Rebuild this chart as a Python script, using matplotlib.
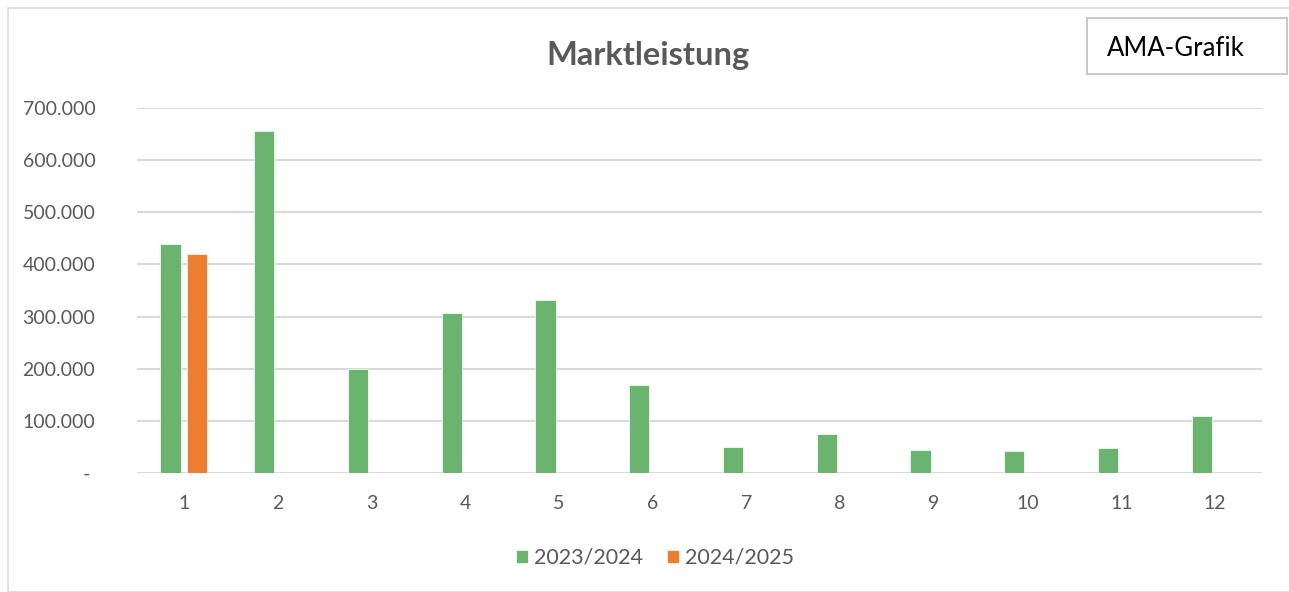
import matplotlib.pyplot as plt
from matplotlib.patches import Rectangle

months = ["1", "2", "3", "4", "5", "6", "7", "8", "9", "10", "11", "12"]
season_2324 = [439000, 656000, 199000, 306000, 331000, 169000, 50000, 75000, 45000, 42000, 47000, 110000]
season_2425 = [420000]
y_ticks = [0, 100000, 200000, 300000, 400000, 500000, 600000, 700000]
y_tick_labels = ["- ", "100.000", "200.000", "300.000", "400.000", "500.000", "600.000", "700.000"]

green = "#6BB46F"
orange = "#ED7D31"
grey_text = "#595959"

plt.rcParams['font.family'] = ['Lato', 'DejaVu Sans']

fig = plt.figure(figsize=(12.89, 5.92), dpi=100)
ax = fig.add_axes([137/1289, 1 - 473/592, (1262 - 137)/1289, (473 - 108)/592])

w = 0.214
off = 0.143
x = list(range(len(months)))
ax.bar([i - off for i in x], season_2324, width=w, color=green, edgecolor="white", linewidth=0.5,
       label="2023/2024", zorder=3)
ax.bar([i + off for i in range(len(season_2425))], season_2425, width=w, color=orange,
       edgecolor="white", linewidth=0.5, label="2024/2025", zorder=3)

ax.set_xlim(-0.5, len(months) - 0.5)
ax.set_ylim(0, 700000)
ax.set_xticks(x)
ax.set_xticklabels(months)
ax.set_yticks(y_ticks)
ax.set_yticklabels(y_tick_labels)
ax.tick_params(axis="both", length=0, labelsize=14, colors=grey_text)
ax.tick_params(axis="y", pad=30)
ax.tick_params(axis="x", pad=16)
for s in ax.spines.values():
    s.set_visible(False)
ax.yaxis.grid(True, color="#D9D9D9", linewidth=1.5, zorder=0)
ax.set_axisbelow(True)

fig.text(648/1289, 1 - 55/592, "Marktleistung", ha="center", va="center",
         fontsize=23.5, fontweight="bold", color=grey_text)

leg = ax.legend(loc="center", bbox_to_anchor=(655/1289, 1 - 558/592), bbox_transform=fig.transFigure,
                ncol=2, frameon=False, fontsize=15.5, handlelength=0.55, handleheight=0.55,
                handletextpad=0.3, columnspacing=1.1)
for t in leg.get_texts():
    t.set_color(grey_text)

# outer chart frame
fig.patches.append(Rectangle((8/1289, 0), 1, 1 - 8/592, transform=fig.transFigure,
                             fill=False, edgecolor="#D9D9D9", linewidth=1.2))

# AMA-Grafik box
fig.patches.append(Rectangle((1087/1289, 1 - 74/592), 200/1289, 56/592, transform=fig.transFigure,
                             facecolor="white", edgecolor="#BFBFBF", linewidth=1.2, zorder=5))
fig.text(1107/1289, 1 - 48/592, "AMA-Grafik", ha="left", va="center", fontsize=18.5,
         color="black", zorder=6)

fig.savefig("out.png", dpi=100)
